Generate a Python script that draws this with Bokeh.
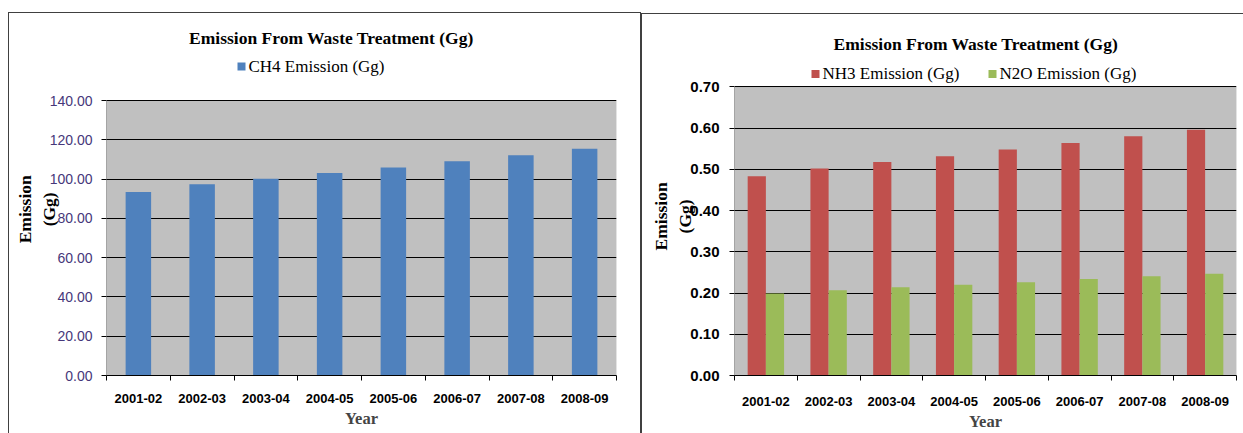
from bokeh.plotting import figure
from bokeh.models import (Range1d, FixedTicker, PrintfTickFormatter, Label,
                          BoxAnnotation, ColumnDataSource)
from bokeh.layouts import row, column
from bokeh.embed import file_html
from bokeh.resources import INLINE

# ---------------- data ----------------
years = ["2001-02", "2002-03", "2003-04", "2004-05", "2005-06", "2006-07", "2007-08", "2008-09"]
ch4 = [93.4, 97.4, 100.2, 103.1, 105.9, 109.1, 112.1, 115.4]
nh3 = [0.483, 0.502, 0.518, 0.532, 0.548, 0.564, 0.580, 0.596]
n2o = [0.199, 0.207, 0.214, 0.220, 0.226, 0.234, 0.241, 0.247]
ch4_ticks = [0, 20, 40, 60, 80, 100, 120, 140]
gas_ticks = [0.0, 0.1, 0.2, 0.3, 0.4, 0.5, 0.6, 0.7]
title_text = "Emission From Waste Treatment (Gg)"
y_title_lines = ["Emission", "(Gg)"]
x_title = "Year"
ch4_name = "CH4 Emission (Gg)"
nh3_name = "NH3 Emission (Gg)"
n2o_name = "N2O Emission (Gg)"

BLUE = "#4F81BD"
RED = "#C0504D"
GREEN = "#9BBB59"
PLOT_BG = "#C0C0C0"
SERIF = "Liberation Serif"
SANS = "Liberation Sans"

n = len(years)
centers = [i + 0.5 for i in range(n)]
bounds = list(range(n + 1))


class Chart:
    """One chart box. Frame spans from the box top to the plot-area bottom;
    the grey plot area is drawn as an underlay box from 0 to ymax."""

    def __init__(self, box_left, box_top, width, fl, fr, plot_top, fb, ymax, yticks,
                 ylab_size, ylab_style, ylab_color, xstand, ystand, ytitle_stand, ytitle_pad):
        self.fl, self.fr, self.fb, self.pt = fl, fr, fb, plot_top
        self.ymax = ymax
        height = 433 - box_top
        self.y_end = ymax * (fb - box_top) / (fb - plot_top)
        p = figure(width=width, height=height, output_backend="svg", toolbar_location=None,
                   x_range=Range1d(0, n), y_range=Range1d(0, self.y_end),
                   min_border_left=fl - box_left, min_border_right=box_left + width - fr,
                   min_border_top=0, min_border_bottom=433 - fb,
                   background_fill_alpha=0, border_fill_alpha=0, outline_line_color=None)
        self.p = p
        # grey plot area + its thin outline, and the black left axis line
        p.add_layout(BoxAnnotation(left=0, right=n, bottom=0, top=ymax, fill_color=PLOT_BG,
                                   fill_alpha=1, line_color="#a0a0a0", line_width=1, level="image"))
        p.add_layout(BoxAnnotation(left=0, right=0, bottom=0, top=ymax, fill_alpha=0,
                                   line_color="black", line_width=1, level="guide"))

        xa = p.xaxis[0]
        xa.ticker = FixedTicker(ticks=centers, minor_ticks=bounds)
        xa.major_label_overrides = {c: y for c, y in zip(centers, years)}
        xa.major_tick_line_color = None
        xa.major_tick_out = 0
        xa.major_tick_in = 0
        xa.minor_tick_line_color = "black"
        xa.minor_tick_out = 5
        xa.minor_tick_in = 0
        xa.axis_line_color = "black"
        xa.major_label_text_font = SANS
        xa.major_label_text_font_style = "bold"
        xa.major_label_text_font_size = "13px"
        xa.major_label_text_color = "black"
        xa.major_label_standoff = xstand
        xa.axis_label = x_title
        xa.axis_label_text_font = SERIF
        xa.axis_label_text_font_style = "bold"
        xa.axis_label_text_font_size = "16.5px"
        xa.axis_label_standoff = 3

        ya = p.yaxis[0]
        ya.ticker = FixedTicker(ticks=yticks)
        ya.formatter = PrintfTickFormatter(format="%.2f")
        ya.axis_line_color = None
        ya.major_tick_line_color = "black"
        ya.major_tick_out = 5
        ya.major_tick_in = 0
        ya.minor_tick_line_color = None
        ya.major_label_text_font = SANS
        ya.major_label_text_font_size = ylab_size
        ya.major_label_text_font_style = ylab_style
        ya.major_label_text_color = ylab_color
        ya.major_label_standoff = ystand
        # trailing no-break spaces shift the rotated two-line title down the axis
        pad = "\u00a0" * ytitle_pad
        ya.axis_label = "\n".join(line + pad for line in y_title_lines)
        ya.axis_label_text_font = SERIF
        ya.axis_label_text_font_style = "bold"
        ya.axis_label_text_font_size = "17.5px"
        ya.axis_label_text_color = "black"
        ya.axis_label_standoff = ytitle_stand

        p.xgrid.visible = False
        p.ygrid.grid_line_color = "black"
        p.ygrid.grid_line_width = 1

    # page pixel -> data coordinates of this chart
    def to_x(self, px):
        return (px - self.fl) / (self.fr - self.fl) * n

    def to_y(self, py):
        return (self.fb - py) / (self.fb - self.pt) * self.ymax

    def text(self, px, py, text, size, style, align):
        self.p.add_layout(Label(x=self.to_x(px), y=self.to_y(py), text=text, text_font=SERIF,
                                text_font_size=size, text_font_style=style, text_align=align,
                                text_baseline="middle", text_color="black"))

    def swatch(self, px, py, color):
        self.p.add_layout(BoxAnnotation(left=self.to_x(px), right=self.to_x(px + 8),
                                        top=self.to_y(py), bottom=self.to_y(py + 8),
                                        fill_color=color, fill_alpha=1, line_color=None))


# ---------------- left chart ----------------
L = Chart(box_left=8, box_top=12, width=633, fl=106, fr=616, plot_top=100, fb=375,
          ymax=ch4_ticks[-1], yticks=ch4_ticks, ylab_size="14px", ylab_style="normal",
          ylab_color="#46377a", xstand=13, ystand=9, ytitle_stand=-12, ytitle_pad=7)
src1 = ColumnDataSource(dict(x=centers, top=ch4, year=years))
L.p.vbar(x="x", top="top", width=0.4, bottom=0, source=src1, fill_color=BLUE, line_color=None)
L.text(331, 37, title_text, "17.5px", "bold", "center")
L.swatch(237, 62, BLUE)
L.text(248, 66, ch4_name, "17px", "normal", "left")

c1 = column(L.p, spacing=0, margin=(12, 0, 0, 8),
            styles={"box-shadow": "inset 1px 0 0 #404040, inset -1px 0 0 #404040, inset 0 1px 0 #404040"})

# ---------------- right chart ----------------
R = Chart(box_left=641, box_top=13, width=602, fl=734, fr=1236, plot_top=87, fb=378,
          ymax=gas_ticks[-1], yticks=gas_ticks, ylab_size="15px", ylab_style="bold",
          ylab_color="black", xstand=16, ystand=10, ytitle_stand=-8, ytitle_pad=10)
bw = 0.29
src2 = ColumnDataSource(dict(xn=[c - bw / 2 for c in centers], xo=[c + bw / 2 for c in centers],
                             nh3=nh3, n2o=n2o, year=years))
R.p.vbar(x="xn", top="nh3", width=bw, bottom=0, source=src2, fill_color=RED, line_color=None)
R.p.vbar(x="xo", top="n2o", width=bw, bottom=0, source=src2, fill_color=GREEN, line_color=None)
R.text(975.5, 44, title_text, "17.5px", "bold", "center")
R.swatch(811, 70, RED)
R.text(822, 74, nh3_name, "17px", "normal", "left")
R.swatch(988, 70, GREEN)
R.text(999, 74, n2o_name, "17px", "normal", "left")

c2 = column(R.p, spacing=0, margin=(13, 0, 0, 0),
            styles={"box-shadow": "inset 1px 0 0 #404040, inset 0 1px 0 #404040"})

layout = row(c1, c2, spacing=0)
open("out.html", "w").write(file_html(layout, INLINE))
